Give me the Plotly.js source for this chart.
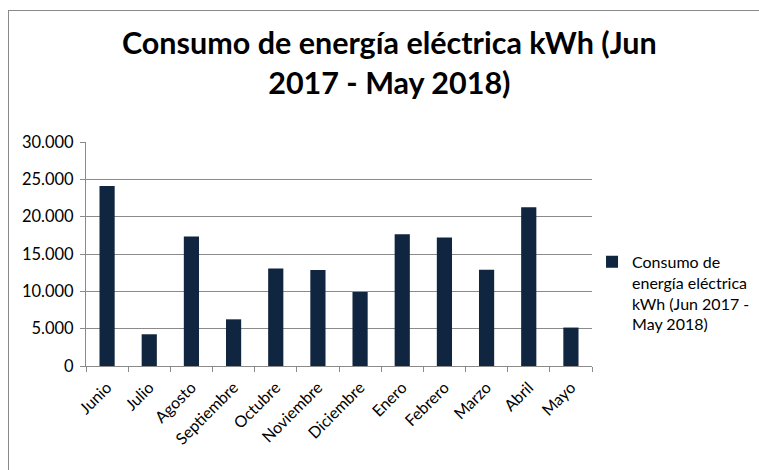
<!DOCTYPE html>
<html>
<head>
<meta charset="utf-8">
<script src="https://cdn.plot.ly/plotly-3.0.1.min.js"></script>
<style>
  html, body { margin: 0; padding: 0; background: #fff; }
  #wrap { position: relative; width: 759px; height: 470px; overflow: hidden; }
  #chart { position: absolute; left: 0; top: 0; width: 759px; height: 470px; }
  #frame { position: absolute; left: 8px; top: 10px; width: 800px; height: 500px;
           border-left: 1px solid #8a8a8a; border-top: 1px solid #8a8a8a; pointer-events: none; }
</style>
</head>
<body>
<div id="wrap">
  <div id="chart"></div>
  <div id="frame"></div>
</div>
<script>
const months = ["Junio", "Julio", "Agosto", "Septiembre", "Octubre", "Noviembre",
                "Diciembre", "Enero", "Febrero", "Marzo", "Abril", "Mayo"];
const consumo = [24100, 4250, 17350, 6250, 13050, 12850, 9900, 17650, 17200, 12900, 21250, 5150];
const seriesName = "Consumo de<br>energía eléctrica<br>kWh (Jun 2017 -<br>May 2018)";
const chartTitle = "Consumo de energía eléctrica kWh (Jun<br>2017 - May 2018)";
const yTicks = [0, 5000, 10000, 15000, 20000, 25000, 30000];

const FONT = "Lato, 'Open Sans', sans-serif";

const trace = {
  type: "bar",
  x: months,
  y: consumo,
  name: seriesName,
  marker: { color: "#10253f" },
  showlegend: true,
  hoverinfo: "x+y"
};

const layout = {
  width: 759,
  height: 470,
  paper_bgcolor: "#ffffff",
  plot_bgcolor: "#ffffff",
  separators: ",.",
  font: { family: FONT, color: "#000000", size: 14 },
  margin: { l: 86, r: 167, t: 142, b: 104, pad: 0 },
  title: {
    text: chartTitle,
    font: { family: FONT, size: 30.5, color: "#000000", weight: "bold" },
    x: 0.513, xanchor: "center", xref: "container",
    y: 0.885, yanchor: "top", yref: "container"
  },
  bargap: 0.64,
  xaxis: {
    type: "category",
    tickangle: -45,
    tickfont: { family: FONT, size: 16, color: "#000000" },
    ticklabelstandoff: 5,
    showline: true, linecolor: "#8a8a8a", linewidth: 1,
    ticks: "outside", tickson: "boundaries", ticklen: 5, tickcolor: "#8a8a8a",
    showgrid: false, zeroline: false,
    automargin: false
  },
  yaxis: {
    range: [0, 30000],
    tickvals: yTicks,
    tickformat: ",d",
    tickfont: { family: FONT, size: 16.5, color: "#000000" },
    ticklabelstandoff: 3,
    showline: true, linecolor: "#8a8a8a", linewidth: 1,
    ticks: "outside", ticklen: 5, tickcolor: "#8a8a8a",
    showgrid: true, gridcolor: "#8a8a8a", gridwidth: 1,
    zeroline: false,
    automargin: false
  },
  legend: {
    xref: "container", yref: "container",
    x: 0.78, xanchor: "left",
    y: 0.479, yanchor: "top",
    valign: "top",
    font: { family: FONT, size: 16, color: "#000000" },
    bgcolor: "rgba(0,0,0,0)",
    itemwidth: 30
  },
  showlegend: true
};

Plotly.newPlot("chart", [trace], layout, { displayModeBar: false, staticPlot: true });
</script>
</body>
</html>
